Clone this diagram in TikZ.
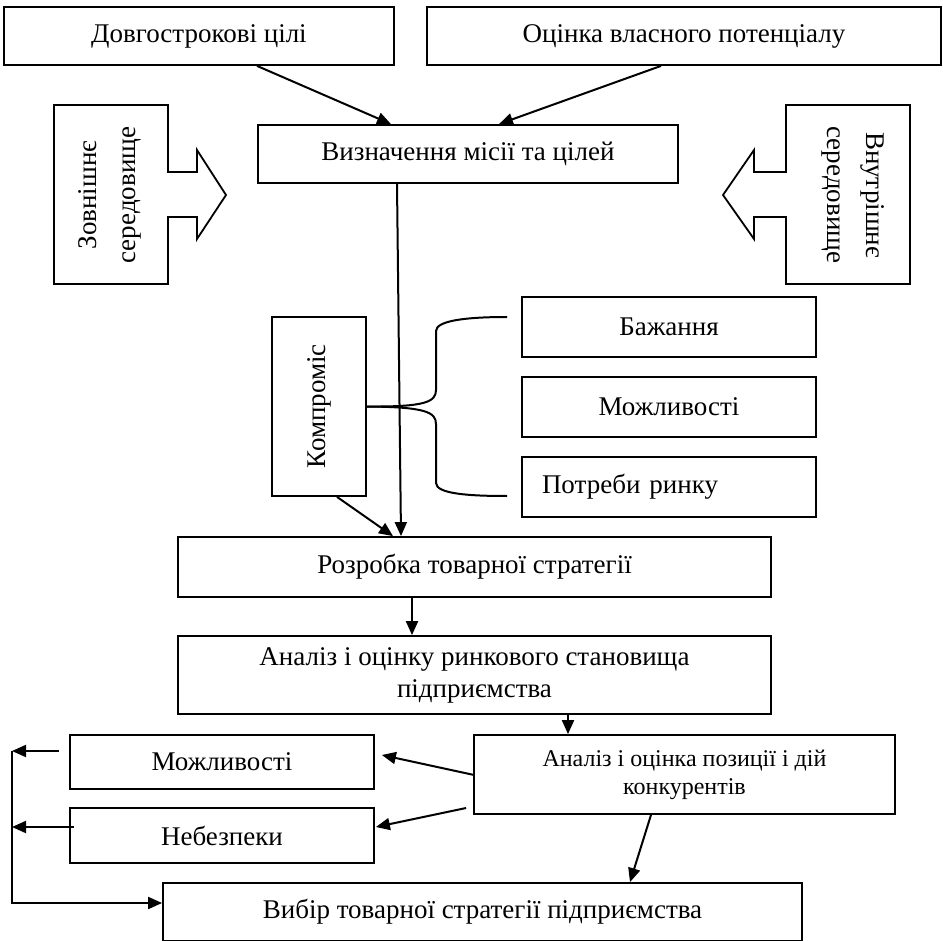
\documentclass[tikz,border=0pt]{standalone}
\usepackage{fontspec}
\setmainfont{Liberation Serif}
\usetikzlibrary{arrows.meta,calc}

\begin{document}
\begin{tikzpicture}[x=0.5pt, y=-0.5pt,
    blok/.style={draw, line width=0.9pt, inner sep=2pt, align=center,
        font=\fontsize{13.5}{16}\selectfont},
    strilka/.style={-{Triangle[length=7pt, width=6pt]}, line width=1pt},
    lin/.style={line width=1pt}]
    \useasboundingbox (0,0) rectangle (943,941);

    % верхній рівень
    \node[blok, minimum width=195pt, minimum height=29pt] (dovh) at (199,36) {Довгострокові цілі};
    \node[blok, minimum width=257pt, minimum height=29pt] (potenc) at (684,36) {Оцінка власного потенціалу};
    \node[blok, minimum width=210pt, minimum height=29pt] (misia) at (468,154) {Визначення місії та цілей};
    \draw[strilka] ($(dovh.south)+(58,0)$) -- ($(misia.north)+(-77,0)$);
    \draw[strilka] ($(potenc.south)+(-23,0)$) -- ($(misia.north)+(31,0)$);

    % середовище
    \draw[line width=0.9pt] (54,105) -- (168,105) -- (168,172) -- (197,172) -- (197,150) -- (226,195)
        -- (197,239) -- (197,217) -- (168,217) -- (168,284) -- (54,284) -- cycle;
    \node[rotate=90, align=center, font=\fontsize{13.5}{19.5}\selectfont] (zovn) at (110,195) {Зовнішнє\\середовище};
    \draw[line width=0.9pt] (910,105) -- (786,105) -- (786,172) -- (754,172) -- (754,150) -- (723,195)
        -- (754,239) -- (754,217) -- (786,217) -- (786,284) -- (910,284) -- cycle;
    \node[rotate=-90, align=center, font=\fontsize{13.5}{19.5}\selectfont] (vnutr) at (853,195) {Внутрішнє\\середовище};

    % компроміс
    \node[blok, rotate=90, minimum width=89.5pt, minimum height=47pt] (kompr) at (319,406.5) {Компроміс};
    \node[blok, minimum width=147pt, minimum height=30pt] (bazh) at (669,327) {Бажання};
    \node[blok, minimum width=147pt, minimum height=30pt] (mozhl) at (669,407) {Можливості};
    \node[blok, minimum width=147pt, minimum height=30pt, text width=127pt, inner xsep=10pt, align=left] (potr) at (669,487) {Потреби ринку};
    \coordinate (duzhka1) at (507,317);
    \coordinate (duzhka2) at (507,496);
    \draw[lin] (kompr.south) .. controls (425,407) and (436,402) .. (436,390) -- (436,331)
        .. controls (436,320) and (470,317) .. (duzhka1);
    \draw[lin] (kompr.south) .. controls (425,407) and (436,412) .. (436,424) -- (436,483)
        .. controls (436,494) and (470,496) .. (duzhka2);

    % стратегія
    \node[blok, minimum width=296.5pt, minimum height=30pt] (rozr) at (474.5,567) {Розробка товарної стратегії};
    \node[blok, minimum width=296.5pt, minimum height=39pt] (rynok) at (474.5,675) {Аналіз і оцінку ринкового становища\\підприємства};
    \draw[strilka] ($(misia.south)+(-71,0)$) -- ($(rozr.north)+(-73.5,0)$);
    \draw[strilka] ($(kompr.west)+(18,0)$) -- ($(rozr.north)+(-81.5,0)$);
    \draw[strilka] ($(rozr.south)+(-62.5,0)$) -- ($(rynok.north)+(-62.5,0)$);

    % конкуренти
    \node[blok, minimum width=210.5pt, minimum height=39.5pt, font=\fontsize{12}{14}\selectfont] (konk) at (684.5,774.5) {Аналіз і оцінка позиції і дій\\конкурентів};
    \node[blok, minimum width=152pt, minimum height=27pt] (mozh2) at (222,762) {Можливості};
    \node[blok, minimum width=152pt, minimum height=27.5pt] (nebez) at (222,835.5) {Небезпеки};
    \node[blok, minimum width=319.5pt, minimum height=29pt] (vybir) at (482.5,912) {Вибір товарної стратегії підприємства};
    \draw[strilka] ($(rynok.south)+(93.5,0)$) -- ($(konk.north)+(-116.5,0)$);
    \draw[strilka] ($(konk.west)+(1,0.5)$) -- ($(mozh2.east)+(7,-7)$);
    \draw[strilka] ($(konk.west)+(-7,33.5)$) -- ($(nebez.east)+(1,-8.5)$);
    \draw[strilka] ($(konk.south)+(-33.5,0)$) -- ($(vybir.north)+(147.5,0)$);

    % зворотний зв'язок
    \coordinate (liv1) at (12,751);
    \coordinate (liv2) at (12,827);
    \coordinate (liv3) at (12,903);
    \draw[strilka] ($(mozh2.west)+(-10,-11)$) -- (liv1);
    \draw[strilka] ($(nebez.west)+(5,-8.5)$) -- (liv2);
    \draw[strilka] (liv1) -- (liv3) -- ($(vybir.west)+(0,-9)$);
\end{tikzpicture}
\end{document}
